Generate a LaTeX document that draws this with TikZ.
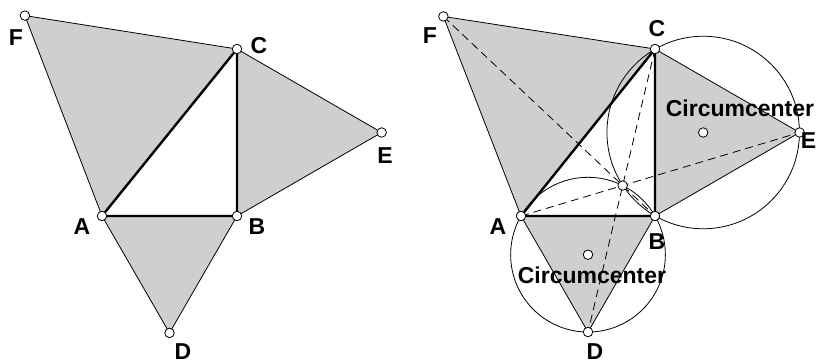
\documentclass[tikz,border=0pt]{standalone}
\usepackage{fontspec}
\setmainfont{Liberation Sans}
\usetikzlibrary{calc}
\tikzset{
    face/.style={fill=black!19, draw=black, line width=0.8pt, line join=round},
    side/.style={draw=black, line width=2.4pt, line cap=round},
    guide/.style={draw=black, line width=0.8pt, dash pattern=on 8pt off 5pt},
    ring/.style={draw=black, line width=0.8pt},
    pt/.style={circle, draw=black, fill=white, line width=0.8pt, inner sep=0pt, minimum size=9.5pt},
    lbl/.style={font=\fontsize{23}{25}\selectfont\bfseries, inner sep=0pt}
}

\begin{document}
\begin{tikzpicture}[x=1pt, y=-1pt]
    \useasboundingbox (0,0) rectangle (817,364);

    % Left figure
    \coordinate (lA) at (102,216);
    \coordinate (lB) at (237,216);
    \coordinate (lC) at (237,49);
    \coordinate (lD) at ($(lA)!1!-60:(lB)$);
    \coordinate (lE) at ($(lB)!1!-60:(lC)$);
    \coordinate (lF) at ($(lC)!1!-60:(lA)$);

    \draw [face] (lA) -- (lD) -- (lB) -- cycle;
    \draw [face] (lB) -- (lE) -- (lC) -- cycle;
    \draw [face] (lC) -- (lF) -- (lA) -- cycle;
    \draw [side] (lA) -- (lB) -- (lC) -- cycle;

    \foreach \p in {A,B,C,D,E,F}
        \node (l\p dot) [pt] at (l\p) {};

    \node (lFlbl) [lbl] at (16,38) {F};
    \node (lClbl) [lbl] at (259,46) {C};
    \node (lElbl) [lbl] at (385,156) {E};
    \node (lAlbl) [lbl] at (82,227) {A};
    \node (lBlbl) [lbl] at (257,227) {B};
    \node (lDlbl) [lbl] at (183,352) {D};

    % Right figure
    \coordinate (rA) at (521,216);
    \coordinate (rB) at (655,216);
    \coordinate (rC) at (655,49);
    \coordinate (rD) at ($(rA)!1!-60:(rB)$);
    \coordinate (rE) at ($(rB)!1!-60:(rC)$);
    \coordinate (rF) at ($(rC)!1!-60:(rA)$);
    \coordinate (rP) at (intersection of rF--rB and rA--rE);
    \coordinate (rO1) at ($(rA)!0.5!(rB)!1/3!(rD)$);
    \coordinate (rO2) at ($(rB)!0.5!(rC)!1/3!(rE)$);

    \draw [face] (rA) -- (rD) -- (rB) -- cycle;
    \draw [face] (rB) -- (rE) -- (rC) -- cycle;
    \draw [face] (rC) -- (rF) -- (rA) -- cycle;

    % circumcircles
    \draw [ring] let \p1 = ($(rA)-(rO1)$) in (rO1) circle ({veclen(\x1,\y1)});
    \draw [ring] let \p1 = ($(rB)-(rO2)$) in (rO2) circle ({veclen(\x1,\y1)});

    \draw [guide] (rF) -- (rB);
    \draw [guide] (rA) -- (rE);
    \draw [guide] (rC) -- (rD);
    \draw [side] (rA) -- (rB) -- (rC) -- cycle;

    \foreach \p in {A,B,C,D,E,F,P,O1,O2}
        \node (r\p dot) [pt] at (r\p) {};

    \node (rFlbl) [lbl] at (430,36) {F};
    \node (rClbl) [lbl] at (657,29) {C};
    \node (rElbl) [lbl, anchor=east] at (816.5,141) {E};
    \node (rAlbl) [lbl] at (498,227) {A};
    \node (rBlbl) [lbl] at (657,242) {B};
    \node (rDlbl) [lbl] at (595,352) {D};
    \node (rO2lbl) [lbl] at (740,108) {Circumcenter};
    \node (rO1lbl) [lbl] at (592,275) {Circumcenter};
\end{tikzpicture}
\end{document}
